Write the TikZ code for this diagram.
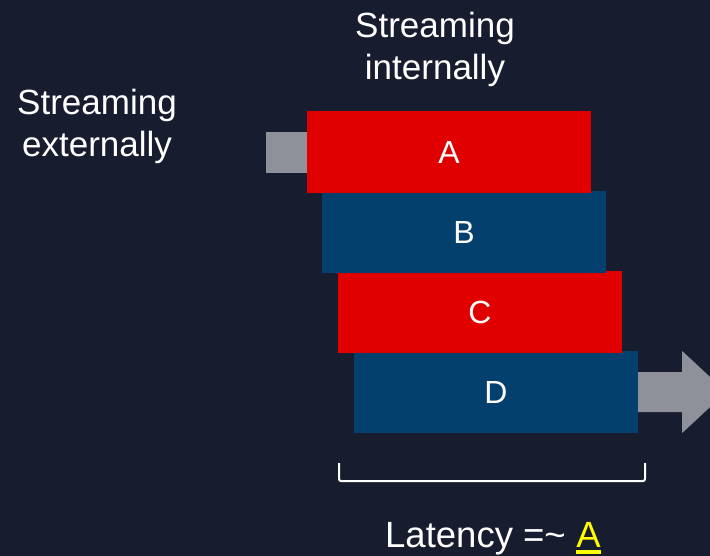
\documentclass[tikz,border=0pt]{standalone}
\usepackage{fontspec}
\setmainfont{Liberation Sans}
\usetikzlibrary{positioning}
\definecolor{bgnavy}{HTML}{181C2F}
\definecolor{stagered}{HTML}{E00000}
\definecolor{stageblue}{HTML}{03406E}
\definecolor{flowgray}{HTML}{8E9199}
\definecolor{hiyellow}{HTML}{FFFF00}
\tikzset{
  stage/.style={minimum width=284pt, minimum height=82pt, inner sep=0pt,
    text=white, font=\fontsize{32}{38}\selectfont},
  redstage/.style={stage, fill=stagered},
  bluestage/.style={stage, fill=stageblue},
  caption/.style={text=white, align=center, inner sep=0pt,
    font=\fontsize{35}{42}\selectfont},
  latencytext/.style={caption, font=\fontsize{36.5}{42}\selectfont},
  flow/.style={fill=flowgray},
  bracketline/.style={draw=white, line width=2pt, rounded corners=2pt}
}
\begin{document}
\begin{tikzpicture}[x=1pt, y=-1pt]
  % canvas
  \fill[bgnavy] (0,0) rectangle (710,556);
  \useasboundingbox (0,0) rectangle (710,556);
  \clip (0,0) rectangle (710,556);

  % incoming stream stub, tucked under stage A
  \coordinate (inA) at (266,132);
  \fill[flow] (inA) rectangle (320,173);

  % pipeline stages, drawn bottom-up so each overlaps the one below
  \node[bluestage] (D) at (496,392) {D};
  \node[redstage]  (C) at (480,312) {C};
  \node[bluestage] (B) at (464,232) {B};
  \node[redstage]  (A) at (449,152) {A};

  % outgoing stream arrow leaving stage D (y grows downward here)
  \fill[flow] ([yshift=20pt]D.east) -- ++(44,0) -- ++(0,-21)
    -- ++(44,41) -- ++(-44,41) -- ++(0,-21) -- ([yshift=-20pt]D.east) -- cycle;

  % captions
  \node[caption, anchor=base] (intl) at (435,38) {Streaming};
  \node[caption, anchor=base] (intl2) at (435,80) {internally};
  \node[caption, anchor=base] (extl) at (97,115) {Streaming};
  \node[caption, anchor=base] (extl2) at (97,157) {externally};

  % bracket spanning the stages
  \coordinate (brL) at (339,463);
  \coordinate (brR) at (645,463);
  \draw[bracketline] (brL) -- (339,481) -- (645,481) -- (brR);

  % latency label with the highlighted stage name
  \node[latencytext, anchor=base west] (lat) at (385,547) {Latency =\char"007E\ };
  \node[latencytext, anchor=base west, text=hiyellow] (latA) at (lat.base east) {A};
  \fill[hiyellow] ([yshift=-3pt]latA.base west) rectangle ([yshift=-7pt]latA.base east);
\end{tikzpicture}
\end{document}
